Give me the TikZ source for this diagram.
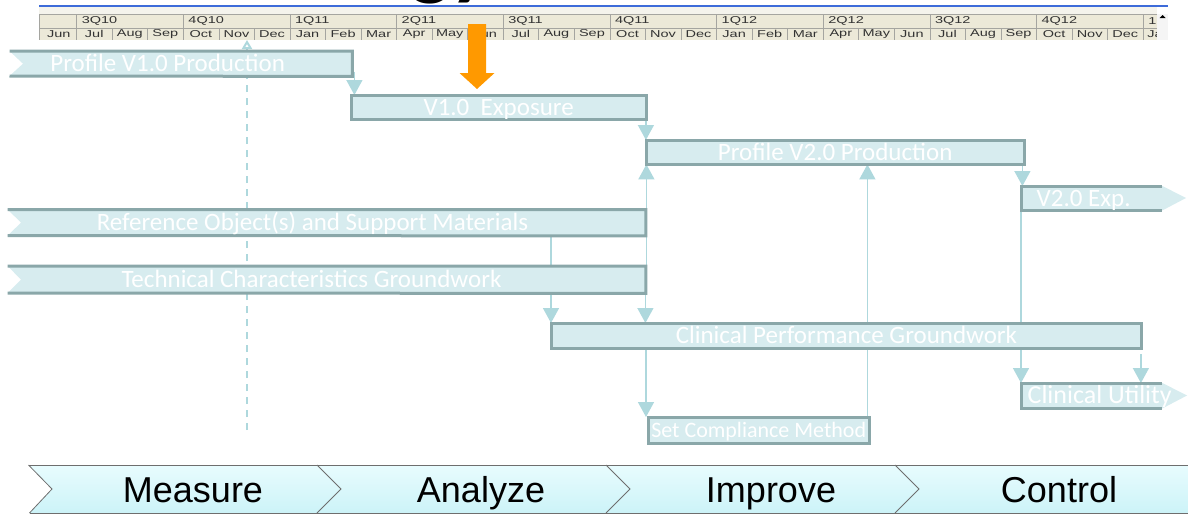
\documentclass[tikz,border=0pt]{standalone}
\usepackage{fontspec}
\setmainfont{Liberation Sans}
\newfontfamily\calib{Carlito}
\usetikzlibrary{arrows.meta}

\definecolor{barfill}{RGB}{215,236,239}
\definecolor{barrim}{RGB}{138,167,169}
\definecolor{linkcol}{RGB}{174,216,221}
\definecolor{arrowor}{RGB}{255,153,0}
\definecolor{headbg}{RGB}{236,233,216}
\definecolor{headtop}{RGB}{244,243,236}
\definecolor{headln}{RGB}{165,165,160}
\definecolor{headblue}{RGB}{61,107,217}
\definecolor{phtop}{RGB}{232,252,254}
\definecolor{phbot}{RGB}{204,243,248}
\definecolor{phrim}{RGB}{110,110,110}

\tikzset{
  task/.style={rectangle, inner sep=0pt, anchor=north west},
  tasktext/.style={text=white, inner sep=0pt, text height=16pt, text depth=0pt,
    font=\calib\fontsize{25}{25}\selectfont},
  rim/.style={draw=barrim, line width=3pt},
  link/.style={draw=linkcol, line width=1.5pt, -{Triangle[width=16pt,length=15pt]}},
  today/.style={draw=linkcol, line width=2pt, dash pattern=on 7pt off 6pt,
    -{Triangle[open,width=10pt,length=9pt]}},
  qtr/.style={anchor=west, inner sep=0pt, xscale=1.45, text=black!80,
    font=\fontsize{10}{10}\selectfont},
  mon/.style={inner sep=0pt, xscale=1.45, text=black!80,
    font=\fontsize{10}{10}\selectfont},
  phase/.style={inner sep=0pt, text height=26pt, text depth=0pt,
    font=\fontsize{36}{36}\selectfont},
  phsep/.style={draw=phrim, line width=0.8pt}
}

\begin{document}
\begin{tikzpicture}[x=1pt,y=1pt,yscale=-1,xscale=1]
        \useasboundingbox (0,0) rectangle (1188,514);

        % title, cut off at the top
        \begin{scope}
        \clip (0,0) rectangle (1188,7);
        \node [anchor=base west, inner sep=0pt, font=\calib\bfseries\fontsize{86}{86}\selectfont] (title) at (410,-10) {gy};
        \end{scope}

        %Shape: timescale header
        \fill [headbg] (39.4,7) rectangle (1157,39.5);
        \fill [headtop] (39.4,7) rectangle (1157,14);
        \draw [headln] (39.4,14) -- (1157,14) (39.4,28) -- (1157,28) (39.4,14) -- (39.4,39.5);
        \foreach \k in {0,...,10} \draw [headln] ({76.5+106.65*\k},14) -- ++(0,14);
        \foreach \k in {0,...,30} \draw [headln] ({76.5+35.55*\k},28) -- ++(0,11.5);
        \foreach \q [count=\k from 0] in {3Q10,4Q10,1Q11,2Q11,3Q11,4Q11,1Q12,2Q12,3Q12,4Q12,1}
          \node [qtr] (q\k) at ({81.5+106.65*\k},21) {\q};
        \foreach \m [count=\k from 0] in {Jun,Jul,Aug,Sep,Oct,Nov,Dec,Jan,Feb,Mar,Apr,May,Jun,Jul,Aug,Sep,Oct,Nov,Dec,Jan,Feb,Mar,Apr,May,Jun,Jul,Aug,Sep,Oct,Nov,Dec}
          \node [mon] (m\k) at ({58.7+35.55*\k},34) {\m};
        \begin{scope}
        \clip (1143,28) rectangle (1157,40);
        \node [qtr] (m31) at (1147,34) {Ja};
        \end{scope}
        \fill [gray!8] (1157,14) rectangle (1168,39.5);
        \fill [black] (1159.5,18) -- (1165.5,18) -- (1162.5,15) -- cycle;
        \draw [headblue, line width=2pt] (39.4,6) -- (1168,6);

        %Shape: orange arrow
        \fill [arrowor] (468,24) -- (486,24) -- (486,73) -- (494.5,73) -- (477,89) -- (459.5,73) -- (468,73) -- cycle;

        % task bars (shapes only)
        \node [task, minimum width=329pt, minimum height=25pt] (pv1) at (23,51) {};
        \node [task, minimum width=295pt, minimum height=24pt] (v1e) at (351,95) {};
        \node [task, minimum width=378pt, minimum height=24pt] (pv2) at (646,140) {};
        \node [task, minimum width=141pt, minimum height=24pt] (v2e) at (1021,186) {};
        \node [task, minimum width=624.5pt, minimum height=26pt] (ref) at (21,209.5) {};
        \node [task, minimum width=624.5pt, minimum height=27pt] (tech) at (21,266) {};
        \node [task, minimum width=590.5pt, minimum height=25pt] (cpg) at (551,323) {};
        \node [task, minimum width=141pt, minimum height=25pt] (cu) at (1021,383) {};
        \node [task, minimum width=221pt, minimum height=26pt] (scm) at (648,417) {};

        % status date line
        \coordinate (today-top) at (247,40);
        \coordinate (today-bot) at (247,430);
        \draw [today] (today-bot) -- (today-top);

        % links
        \draw [link] ([xshift=2pt,yshift=8pt]pv1.east) -- ([xshift=2pt]pv1.east |- v1e.north);
        \draw [link] ([xshift=-0.5pt]v1e.south east) -- ([xshift=-0.5pt]v1e.south east |- pv2.north);
        \draw [link] ([xshift=-2pt]pv2.south east) -- ([xshift=-2pt]pv2.south east |- v2e.north);
        \draw [link] (cpg.north west |- ref.south) -- (cpg.north west);
        \draw [link] ([xshift=-0.5pt]tech.south east) -- ([xshift=-0.5pt]tech.south east |- cpg.north);
        \draw [link] ([xshift=0.5pt]tech.east) -- ([xshift=0.5pt]tech.east |- pv2.south);
        \draw [link] ([xshift=-2pt]scm.north west |- cpg.south) -- ([xshift=-2pt]scm.north west);
        \draw [link] ([xshift=-2pt]scm.north east) -- ([xshift=-2pt]scm.north east |- pv2.south);
        \draw [link] (v2e.south west) -- (cu.north west);
        \draw [link] ([xshift=-1pt,yshift=6pt]cpg.south east) -- ([xshift=-1pt]cpg.south east |- cu.north);

        %Shape: notched bars
        \fill [barfill] (9.5,51) -- (pv1.north east) -- (pv1.south east) -- (9.5,76) -- (pv1.west) -- cycle;
        \draw [rim] (9.5,51) -- (pv1.north east) -- (pv1.south east) -- (9.5,76);
        \fill [barfill] (7.7,209.5) -- (ref.north east) -- (ref.south east) -- (7.7,235.5) -- (ref.west) -- cycle;
        \draw [rim] (7.7,209.5) -- (ref.north east) -- (ref.south east) -- (7.7,235.5);
        \fill [barfill] (7.7,266) -- (tech.north east) -- (tech.south east) -- (7.7,293) -- (tech.west) -- cycle;
        \draw [rim] (7.7,266) -- (tech.north east) -- (tech.south east) -- (7.7,293);

        %Shape: plain bars
        \draw [rim, fill=barfill] (v1e.north west) rectangle (v1e.south east);
        \draw [rim, fill=barfill] (pv2.north west) rectangle (pv2.south east);
        \draw [rim, fill=barfill] (cpg.north west) rectangle (cpg.south east);
        \draw [rim, fill=barfill] (scm.north west) rectangle (scm.south east);

        %Shape: arrow bars
        \fill [barfill] (v2e.north west) -- (v2e.north east) -- (1186,198) -- (v2e.south east) -- (v2e.south west) -- cycle;
        \draw [rim] (v2e.north east) -- (v2e.north west) -- (v2e.south west) -- (v2e.south east);
        \fill [barfill] (cu.north west) -- (cu.north east) -- (1187,395.5) -- (cu.south east) -- (cu.south west) -- cycle;
        \draw [rim] (cu.north east) -- (cu.north west) -- (cu.south west) -- (cu.south east);

        % Text Node
        \node [tasktext] (pv1-txt) at ([xshift=-20pt]pv1.center) {Profile V1.0 Production};
        \node [tasktext] (v1e-txt) at (v1e.center) {V1.0\ \ Exposure};
        \node [tasktext] (pv2-txt) at (pv2.center) {Profile V2.0 Production};
        \node [tasktext] (v2e-txt) at ([xshift=-8pt]v2e.center) {V2.0 Exp.};
        \node [tasktext] (ref-txt) at ([xshift=-21pt]ref.center) {Reference Object(s) and Support Materials};
        \node [tasktext] (tech-txt) at ([xshift=-22pt]tech.center) {Technical Characteristics Groundwork};
        \node [tasktext] (cpg-txt) at (cpg.center) {Clinical Performance Groundwork};
        \node [tasktext, font=\calib\fontsize{26}{26}\selectfont] (cu-txt) at ([xshift=8pt]cu.center) {Clinical Utility};
        \node [tasktext, text height=14pt, font=\calib\fontsize{22}{22}\selectfont] (scm-txt) at (scm.center) {Set Compliance Method};

        %Shape: phase band
        \shade [top color=phtop, bottom color=phbot] (28.5,465) -- (1188,465) -- (1188,513) -- (29.5,513) -- (52,489) -- cycle;
        \draw [phrim, line width=0.8pt] (28.5,465) -- (1188,465) (29.5,513) -- (1188,513);
        \draw [phsep] (28.5,465) -- (52,489) -- (29.5,513);
        \draw [phsep] (317,465) -- (341,489) -- (317,513);
        \draw [phsep] (606,465) -- (630,489) -- (606,513);
        \draw [phsep] (895,465) -- (919,489) -- (895,513);

        % Text Node
        \node [phase] (measure) at (193,489) {Measure};
        \node [phase] (analyze) at (481,489) {Analyze};
        \node [phase] (improve) at (771,489) {Improve};
        \node [phase] (control) at (1059,489) {Control};

\end{tikzpicture}
\end{document}
